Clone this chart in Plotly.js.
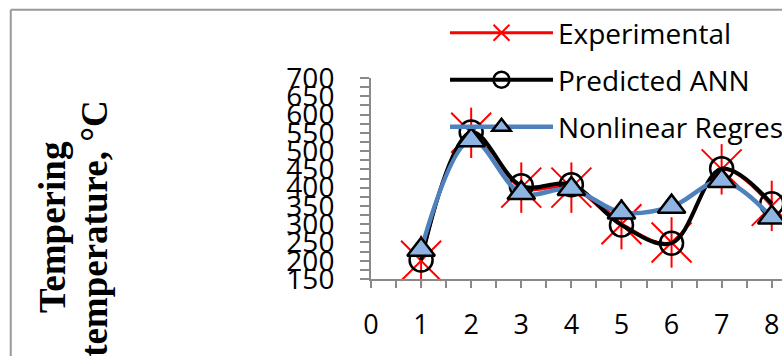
<!DOCTYPE html>
<html><head><meta charset="utf-8">
<script src="https://cdn.plot.ly/plotly-3.0.1.min.js"></script>
<style>html,body{margin:0;padding:0;background:#fff;overflow:hidden}</style>
</head><body><div id="chart" style="width:782px;height:356px"></div>
<script>
const xValues = [1, 2, 3, 4, 5, 6, 7, 8];
const experimental = [200, 550, 400, 400, 300, 250, 450, 350];
const predictedANN = [202, 552, 405, 408, 298, 248, 452, 356];
const nonlinearRegression = [230, 530, 385, 396, 332, 348, 418, 318];
const seriesNames = ['Experimental', 'Predicted ANN', 'Nonlinear Regression'];
const yTitleLines = ['Tempering', 'temperature, °C'];

const W = 782, H = 356;
const L = 370.6, T = 78.3, B = 279.3, R = W;
const pw = R - L, ph = B - T;
const px = v => (v - L) / pw;
const py = v => (B - v) / ph;
const gray = '#898989';
const tickFont = {family: 'Open Sans', color: '#000'};

const traces = [
  {x: xValues, y: experimental, name: seriesNames[0], mode: 'lines+markers', legend: 'legend',
   line: {color: '#FF0000', width: 3, shape: 'spline'},
   marker: {symbol: 'x-thin-open', size: 40, color: '#FF0000', line: {color: '#FF0000', width: 2}},
   cliponaxis: false},
  {x: xValues, y: experimental, name: seriesNames[0], mode: 'markers', showlegend: false,
   marker: {symbol: 'line-ns-open', size: 36, color: '#FF0000', line: {color: '#FF0000', width: 2}},
   cliponaxis: false},
  {x: xValues, y: predictedANN, name: seriesNames[1], mode: 'lines+markers', legend: 'legend2',
   line: {color: '#000000', width: 4, shape: 'spline'},
   marker: {symbol: 'circle-open', size: 23, color: '#000000', line: {color: '#000000', width: 2.5}},
   cliponaxis: false},
  {x: xValues, y: nonlinearRegression, name: seriesNames[2], mode: 'lines+markers', legend: 'legend3',
   line: {color: '#4F81BD', width: 4.5, shape: 'spline'},
   marker: {symbol: 'triangle-up', size: 24, color: '#8EB4E3', line: {color: '#000000', width: 2.5}},
   cliponaxis: false}
];

const legendBase = (yc) => ({
  xref: 'container', yref: 'container', x: 445 / W, y: 1 - yc / H,
  xanchor: 'left', yanchor: 'middle', bgcolor: 'rgba(0,0,0,0)', borderwidth: 0,
  itemwidth: 103, font: {family: 'Open Sans', size: 28, color: '#000'}
});

const layout = {
  width: W, height: H,
  margin: {l: L, r: 0, t: T, b: H - B, pad: 0, autoexpand: false},
  paper_bgcolor: '#fff', plot_bgcolor: '#fff',
  showlegend: true,
  legend: legendBase(33), legend2: legendBase(80), legend3: legendBase(127),
  xaxis: {range: [0, 8.205], tickmode: 'linear', tick0: 0, dtick: 1,
    ticks: 'outside', ticklen: 7, tickwidth: 2, tickcolor: gray,
    showline: true, linecolor: gray, linewidth: 2, showgrid: false, zeroline: false,
    tickfont: Object.assign({size: 27}, tickFont), ticklabelstandoff: 14,
    minor: {dtick: 0.5, tick0: 0, ticks: 'outside', ticklen: 7, tickwidth: 2, tickcolor: gray, showgrid: false}},
  yaxis: {range: [150, 700], tickmode: 'linear', tick0: 150, dtick: 50,
    ticks: 'outside', ticklen: 9, tickwidth: 2, tickcolor: gray,
    showline: true, linecolor: gray, linewidth: 2, showgrid: false, zeroline: false,
    tickfont: Object.assign({size: 28}, tickFont), ticklabelstandoff: 20,
    minor: {dtick: 25, tick0: 150, ticks: 'outside', ticklen: 9, tickwidth: 2, tickcolor: gray, showgrid: false}},
  annotations: [
    {xref: 'paper', yref: 'paper', x: px(51), y: py(227.5), text: yTitleLines[0], showarrow: false,
     textangle: -90, xanchor: 'center', yanchor: 'middle',
     font: {family: 'Liberation Serif', size: 37, weight: 'bold', color: '#000'}},
    {xref: 'paper', yref: 'paper', x: px(94), y: py(228.5), text: yTitleLines[1], showarrow: false,
     textangle: -90, xanchor: 'center', yanchor: 'middle',
     font: {family: 'Liberation Serif', size: 37, weight: 'bold', color: '#000'}}
  ],
  shapes: [
    {type: 'line', xref: 'paper', yref: 'paper', x0: px(10), x1: px(W + 10), y0: py(10), y1: py(10), line: {color: '#999', width: 2}},
    {type: 'line', xref: 'paper', yref: 'paper', x0: px(10), x1: px(10), y0: py(10), y1: py(H + 10), line: {color: '#999', width: 2}}
  ]
};

Plotly.newPlot('chart', traces, layout, {displayModeBar: false, staticPlot: true});
</script>
</body></html>
